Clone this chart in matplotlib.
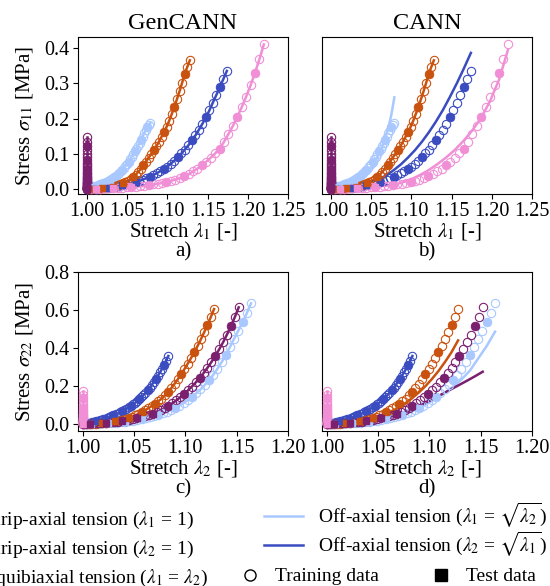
import numpy as np
import matplotlib
matplotlib.use("Agg")
import matplotlib.pyplot as plt
from matplotlib.lines import Line2D

# ---- data (stretch [-], stress [MPa]) ----

# strip-axial tension, lambda1 = 1 (purple)
strip1_lam2 = [1.0000, 1.0038, 1.0076, 1.0114, 1.0152, 1.0190, 1.0228, 1.0266,
               1.0304, 1.0342, 1.0380, 1.0418, 1.0456, 1.0494, 1.0532, 1.0570,
               1.0608, 1.0646, 1.0684, 1.0722, 1.0760, 1.0798, 1.0836, 1.0874,
               1.0912, 1.0950, 1.0988, 1.1026, 1.1064, 1.1102, 1.1140, 1.1178,
               1.1216, 1.1254, 1.1292, 1.1330, 1.1368, 1.1406, 1.1444, 1.1482,
               1.1520]
strip1_s11 = [0.000, 0.000, 0.001, 0.001, 0.002, 0.002, 0.003, 0.003, 0.004,
              0.005, 0.006, 0.007, 0.008, 0.009, 0.010, 0.011, 0.013, 0.014,
              0.016, 0.018, 0.020, 0.022, 0.025, 0.028, 0.031, 0.034, 0.038,
              0.042, 0.046, 0.051, 0.056, 0.062, 0.068, 0.075, 0.083, 0.091,
              0.100, 0.110, 0.122, 0.134, 0.148]
strip1_s22 = [0.000, 0.001, 0.002, 0.003, 0.004, 0.005, 0.007, 0.008, 0.010,
              0.012, 0.015, 0.018, 0.021, 0.025, 0.030, 0.035, 0.041, 0.048,
              0.055, 0.064, 0.073, 0.084, 0.096, 0.109, 0.124, 0.140, 0.158,
              0.177, 0.197, 0.219, 0.243, 0.268, 0.296, 0.326, 0.358, 0.393,
              0.430, 0.471, 0.515, 0.562, 0.614]
# CANN prediction at every second stretch
strip1_cann_s22 = [0.000, 0.002, 0.004, 0.007, 0.011, 0.016, 0.022, 0.029,
                   0.037, 0.048, 0.062, 0.078, 0.097, 0.118, 0.140, 0.162,
                   0.184, 0.206, 0.228, 0.251, 0.275]

# strip-axial tension, lambda2 = 1 (pink)
strip2_lam1 = [1.0000, 1.0055, 1.0110, 1.0165, 1.0220, 1.0275, 1.0330, 1.0385,
               1.0440, 1.0495, 1.0550, 1.0605, 1.0660, 1.0715, 1.0770, 1.0825,
               1.0880, 1.0935, 1.0990, 1.1045, 1.1100, 1.1155, 1.1210, 1.1265,
               1.1320, 1.1375, 1.1430, 1.1485, 1.1540, 1.1595, 1.1650, 1.1705,
               1.1760, 1.1815, 1.1870, 1.1925, 1.1980, 1.2035, 1.2090, 1.2145,
               1.2200]
strip2_s11 = [0.000, 0.000, 0.001, 0.001, 0.002, 0.002, 0.003, 0.003, 0.004,
              0.005, 0.006, 0.007, 0.008, 0.009, 0.011, 0.013, 0.015, 0.017,
              0.020, 0.023, 0.027, 0.031, 0.036, 0.042, 0.050, 0.058, 0.068,
              0.078, 0.089, 0.101, 0.115, 0.134, 0.156, 0.179, 0.205, 0.232,
              0.262, 0.294, 0.330, 0.368, 0.410]
strip2_s22 = [0.000, 0.000, 0.001, 0.001, 0.002, 0.002, 0.003, 0.003, 0.004,
              0.004, 0.005, 0.005, 0.006, 0.007, 0.008, 0.009, 0.010, 0.011,
              0.013, 0.015, 0.017, 0.019, 0.021, 0.024, 0.027, 0.030, 0.034,
              0.038, 0.042, 0.047, 0.052, 0.058, 0.066, 0.074, 0.084, 0.094,
              0.106, 0.120, 0.135, 0.153, 0.175]
strip2_cann_s11 = [0.000, 0.001, 0.002, 0.003, 0.005, 0.007, 0.009, 0.012,
                   0.018, 0.027, 0.039, 0.053, 0.070, 0.089, 0.111, 0.137,
                   0.167, 0.203, 0.250, 0.310, 0.394]

# equibiaxial tension, lambda1 = lambda2 (orange)
equi_lam = [1.0000, 1.0032, 1.0064, 1.0096, 1.0128, 1.0160, 1.0192, 1.0224,
            1.0256, 1.0288, 1.0320, 1.0352, 1.0384, 1.0416, 1.0448, 1.0480,
            1.0512, 1.0544, 1.0576, 1.0608, 1.0640, 1.0672, 1.0704, 1.0736,
            1.0768, 1.0800, 1.0832, 1.0864, 1.0896, 1.0928, 1.0960, 1.0992,
            1.1024, 1.1056, 1.1088, 1.1120, 1.1152, 1.1184, 1.1216, 1.1248,
            1.1280]
equi_s11 = [0.000, 0.000, 0.000, 0.000, 0.001, 0.001, 0.002, 0.003, 0.004,
            0.005, 0.007, 0.009, 0.011, 0.013, 0.016, 0.019, 0.022, 0.028,
            0.034, 0.041, 0.049, 0.058, 0.068, 0.078, 0.089, 0.099, 0.110,
            0.122, 0.134, 0.148, 0.162, 0.177, 0.194, 0.213, 0.233, 0.255,
            0.277, 0.301, 0.326, 0.346, 0.365]
equi_s22 = [0.000, 0.000, 0.001, 0.001, 0.002, 0.003, 0.004, 0.006, 0.008,
            0.011, 0.014, 0.018, 0.022, 0.027, 0.032, 0.038, 0.045, 0.053,
            0.062, 0.072, 0.083, 0.094, 0.106, 0.119, 0.133, 0.150, 0.168,
            0.189, 0.212, 0.236, 0.262, 0.289, 0.318, 0.347, 0.378, 0.411,
            0.446, 0.483, 0.522, 0.562, 0.605]
equi_cann_s22 = [0.000, 0.001, 0.002, 0.004, 0.008, 0.013, 0.020, 0.029,
                 0.040, 0.053, 0.069, 0.088, 0.110, 0.136, 0.165, 0.198,
                 0.236, 0.278, 0.326, 0.378, 0.440]

# off-axial tension, lambda1 = sqrt(lambda2) (light blue)
off1_lam1 = [1.0000, 1.0020, 1.0041, 1.0061, 1.0082, 1.0102, 1.0122, 1.0142,
             1.0163, 1.0183, 1.0203, 1.0223, 1.0243, 1.0263, 1.0283, 1.0303,
             1.0323, 1.0343, 1.0362, 1.0382, 1.0402, 1.0422, 1.0441, 1.0461,
             1.0480, 1.0500, 1.0520, 1.0539, 1.0558, 1.0578, 1.0597, 1.0617,
             1.0636, 1.0655, 1.0674, 1.0694, 1.0713, 1.0732, 1.0751, 1.0770,
             1.0789]
off1_lam2 = [1.0000, 1.0041, 1.0082, 1.0123, 1.0164, 1.0205, 1.0246, 1.0287,
             1.0328, 1.0369, 1.0410, 1.0451, 1.0492, 1.0533, 1.0574, 1.0615,
             1.0656, 1.0697, 1.0738, 1.0779, 1.0820, 1.0861, 1.0902, 1.0943,
             1.0984, 1.1025, 1.1066, 1.1107, 1.1148, 1.1189, 1.1230, 1.1271,
             1.1312, 1.1353, 1.1394, 1.1435, 1.1476, 1.1517, 1.1558, 1.1599,
             1.1640]
off1_s11 = [0.006, 0.006, 0.007, 0.007, 0.008, 0.009, 0.010, 0.011, 0.013,
            0.014, 0.016, 0.018, 0.020, 0.022, 0.025, 0.028, 0.031, 0.034,
            0.038, 0.042, 0.046, 0.050, 0.055, 0.060, 0.066, 0.072, 0.078,
            0.085, 0.092, 0.099, 0.107, 0.115, 0.123, 0.131, 0.140, 0.149,
            0.158, 0.167, 0.175, 0.181, 0.187]
off1_s22 = [0.000, 0.000, 0.001, 0.001, 0.002, 0.003, 0.004, 0.005, 0.007,
            0.009, 0.011, 0.014, 0.017, 0.021, 0.025, 0.030, 0.035, 0.041,
            0.048, 0.056, 0.064, 0.074, 0.085, 0.097, 0.111, 0.126, 0.143,
            0.162, 0.182, 0.205, 0.230, 0.258, 0.290, 0.325, 0.363, 0.405,
            0.450, 0.492, 0.535, 0.583, 0.635]
off1_cann_s11 = [0.000, 0.001, 0.002, 0.004, 0.006, 0.009, 0.012, 0.016,
                 0.021, 0.027, 0.035, 0.044, 0.055, 0.068, 0.083, 0.100,
                 0.120, 0.143, 0.172, 0.210, 0.260]
off1_cann_s22 = [0.000, 0.001, 0.003, 0.005, 0.008, 0.012, 0.018, 0.026,
                 0.036, 0.049, 0.065, 0.085, 0.108, 0.134, 0.163, 0.196,
                 0.234, 0.280, 0.345, 0.410, 0.486]

# off-axial tension, lambda2 = sqrt(lambda1) (dark blue)
off2_lam1 = [1.0000, 1.0044, 1.0087, 1.0131, 1.0174, 1.0218, 1.0261, 1.0305,
             1.0348, 1.0392, 1.0435, 1.0479, 1.0522, 1.0566, 1.0609, 1.0653,
             1.0696, 1.0740, 1.0783, 1.0827, 1.0870, 1.0914, 1.0957, 1.1001,
             1.1044, 1.1088, 1.1131, 1.1175, 1.1218, 1.1262, 1.1305, 1.1349,
             1.1392, 1.1436, 1.1479, 1.1523, 1.1566, 1.1610, 1.1653, 1.1697,
             1.1740]
off2_lam2 = [1.0000, 1.0022, 1.0043, 1.0065, 1.0087, 1.0108, 1.0130, 1.0151,
             1.0173, 1.0194, 1.0215, 1.0237, 1.0258, 1.0279, 1.0300, 1.0321,
             1.0342, 1.0363, 1.0384, 1.0405, 1.0426, 1.0447, 1.0468, 1.0488,
             1.0509, 1.0530, 1.0550, 1.0571, 1.0592, 1.0612, 1.0633, 1.0653,
             1.0673, 1.0694, 1.0714, 1.0734, 1.0755, 1.0775, 1.0795, 1.0815,
             1.0835]
off2_s11 = [0.000, 0.000, 0.001, 0.001, 0.002, 0.003, 0.004, 0.005, 0.007,
            0.009, 0.011, 0.013, 0.015, 0.017, 0.020, 0.023, 0.027, 0.031,
            0.035, 0.040, 0.045, 0.051, 0.057, 0.064, 0.072, 0.081, 0.090,
            0.101, 0.112, 0.124, 0.138, 0.152, 0.168, 0.185, 0.203, 0.223,
            0.245, 0.267, 0.289, 0.312, 0.335]
off2_s22 = [0.000, 0.002, 0.004, 0.006, 0.009, 0.012, 0.015, 0.018, 0.021,
            0.024, 0.028, 0.032, 0.036, 0.040, 0.045, 0.050, 0.055, 0.061,
            0.067, 0.073, 0.080, 0.087, 0.095, 0.103, 0.111, 0.120, 0.130,
            0.141, 0.152, 0.164, 0.178, 0.191, 0.206, 0.222, 0.238, 0.255,
            0.272, 0.292, 0.312, 0.334, 0.358]
off2_cann_s11 = [0.000, 0.001, 0.003, 0.006, 0.010, 0.015, 0.021, 0.029,
                 0.040, 0.054, 0.070, 0.089, 0.110, 0.134, 0.161, 0.191,
                 0.224, 0.261, 0.300, 0.342, 0.386]

colors = {
    "strip1": "#7b1f6f",
    "strip2": "#f08fd6",
    "equi": "#c9520f",
    "off1": "#a8c8ff",
    "off2": "#3a4cc0",
}

labels = {
    "strip1": r"Strip-axial tension ($\lambda_1$ = 1)",
    "strip2": r"Strip-axial tension ($\lambda_2$ = 1)",
    "equi": r"Equibiaxial tension ($\lambda_1$ = $\lambda_2$)",
    "off1": r"Off-axial tension ($\lambda_1$ = $\sqrt{\lambda_2}$)",
    "off2": r"Off-axial tension ($\lambda_2$ = $\sqrt{\lambda_1}$)",
}


def draw(ax, curves):
    # each curve: stretch, measured stress, model stress, color
    # model given either on all stretches or on every second one
    for x, y, fit, c in curves:
        x = np.asarray(x)
        y = np.asarray(y)
        xf = x if len(fit) == len(x) else x[::2]
        ax.plot(xf, fit, color=c, lw=1.8, zorder=2)
        ax.plot(x, y, "o", mfc="none", mec=c, ms=6, mew=0.8, zorder=3)
        ax.plot(x[2::4], y[2::4], "s", color=c, ms=5, zorder=4)


def main():
    plt.rcParams["font.family"] = ["Liberation Serif", "DejaVu Serif"]
    plt.rcParams["mathtext.fontset"] = "stix"

    fig = plt.figure(figsize=(5.5, 5.86), dpi=100)

    ax_a = fig.add_axes([0.1418, 0.6689, 0.3818, 0.2679])
    ax_b = fig.add_axes([0.5855, 0.6689, 0.3818, 0.2679])
    ax_c = fig.add_axes([0.1418, 0.2645, 0.3818, 0.2713])
    ax_d = fig.add_axes([0.5855, 0.2645, 0.3818, 0.2713])

    one1 = np.full(len(strip1_lam2), 1.0)
    one2 = np.full(len(strip2_lam1), 1.0)

    # top row: sigma11 over lambda1
    draw(ax_a, [
        (off1_lam1, off1_s11, off1_s11, colors["off1"]),
        (off2_lam1, off2_s11, off2_s11, colors["off2"]),
        (equi_lam, equi_s11, equi_s11, colors["equi"]),
        (strip2_lam1, strip2_s11, strip2_s11, colors["strip2"]),
        (one1, strip1_s11, strip1_s11, colors["strip1"]),
    ])
    draw(ax_b, [
        (off1_lam1, off1_s11, off1_cann_s11, colors["off1"]),
        (off2_lam1, off2_s11, off2_cann_s11, colors["off2"]),
        (equi_lam, equi_s11, equi_s11, colors["equi"]),
        (strip2_lam1, strip2_s11, strip2_cann_s11, colors["strip2"]),
        (one1, strip1_s11, strip1_s11, colors["strip1"]),
    ])

    # bottom row: sigma22 over lambda2
    draw(ax_c, [
        (off1_lam2, off1_s22, off1_s22, colors["off1"]),
        (off2_lam2, off2_s22, off2_s22, colors["off2"]),
        (equi_lam, equi_s22, equi_s22, colors["equi"]),
        (one2, strip2_s22, strip2_s22, colors["strip2"]),
        (strip1_lam2, strip1_s22, strip1_s22, colors["strip1"]),
    ])
    draw(ax_d, [
        (off1_lam2, off1_s22, off1_cann_s22, colors["off1"]),
        (off2_lam2, off2_s22, off2_s22, colors["off2"]),
        (equi_lam, equi_s22, equi_cann_s22, colors["equi"]),
        (one2, strip2_s22, strip2_s22, colors["strip2"]),
        (strip1_lam2, strip1_s22, strip1_cann_s22, colors["strip1"]),
    ])

    for ax in (ax_a, ax_b):
        ax.set_xlim(0.989, 1.25)
        ax.set_ylim(-0.014, 0.431)
        ax.set_xticks([1.00, 1.05, 1.10, 1.15, 1.20, 1.25])
        ax.set_yticks([0.0, 0.1, 0.2, 0.3, 0.4])
        ax.set_xlabel(r"Stretch $\lambda_1$ [-]", fontsize=15, labelpad=0)
    for ax in (ax_c, ax_d):
        ax.set_xlim(0.9955, 1.20)
        ax.set_ylim(-0.037, 0.80)
        ax.set_xticks([1.00, 1.05, 1.10, 1.15, 1.20])
        ax.set_yticks([0.0, 0.2, 0.4, 0.6, 0.8])
        ax.set_xlabel(r"Stretch $\lambda_2$ [-]", fontsize=15, labelpad=0)

    for ax in (ax_a, ax_b, ax_c, ax_d):
        ax.tick_params(labelsize=14.5, pad=2.5)
        ax.xaxis.set_major_formatter(plt.FormatStrFormatter("%.2f"))
        ax.yaxis.set_major_formatter(plt.FormatStrFormatter("%.1f"))
    for ax in (ax_b, ax_d):
        ax.tick_params(left=False, labelleft=False)

    ax_a.set_ylabel(r"Stress $\sigma_{11}$ [MPa]", fontsize=15, labelpad=7)
    ax_c.set_ylabel(r"Stress $\sigma_{22}$ [MPa]", fontsize=15, labelpad=7)

    ax_a.set_title("GenCANN", fontsize=17.5)
    ax_b.set_title("CANN", fontsize=17.5)

    # panel letters under the x labels
    for ax, tag in zip((ax_a, ax_b, ax_c, ax_d), ("a)", "b)", "c)", "d)")):
        ax.annotate(tag, xy=(0.5, 0), xycoords="axes fraction",
                    xytext=(0, -42), textcoords="offset points",
                    fontsize=15, ha="center", va="center")

    # legend, one block per column; the left block runs past the figure
    # edge and is cut there, as in the source
    def mode_handles(keys):
        return [Line2D([], [], color=colors[k], lw=1.8, label=labels[k])
                for k in keys]

    common = dict(frameon=False, fontsize=14, handlelength=2.0,
                  handletextpad=0.8, borderpad=0, borderaxespad=0)
    fig.legend(handles=mode_handles(("strip1", "strip2", "equi")),
               loc="upper right", bbox_to_anchor=(0.3795, 0.130),
               labelspacing=0.41, **common)
    fig.legend(handles=mode_handles(("off1", "off2")),
               loc="upper right", bbox_to_anchor=(0.995, 0.145),
               labelspacing=0.0, **common)

    data_handles = [
        Line2D([], [], ls="none", marker="o", mfc="none", mec="black",
               ms=8, label="Training data"),
        Line2D([], [], ls="none", marker="s", color="black", ms=8,
               label="Test data"),
    ]
    fig.legend(handles=data_handles, ncol=2, loc="upper left",
               bbox_to_anchor=(0.436, 0.031), frameon=False, fontsize=14,
               handlelength=1.0, handletextpad=0.8, columnspacing=2.7,
               borderpad=0, borderaxespad=0)

    fig.savefig("out.png", dpi=100)


if __name__ == "__main__":
    main()
